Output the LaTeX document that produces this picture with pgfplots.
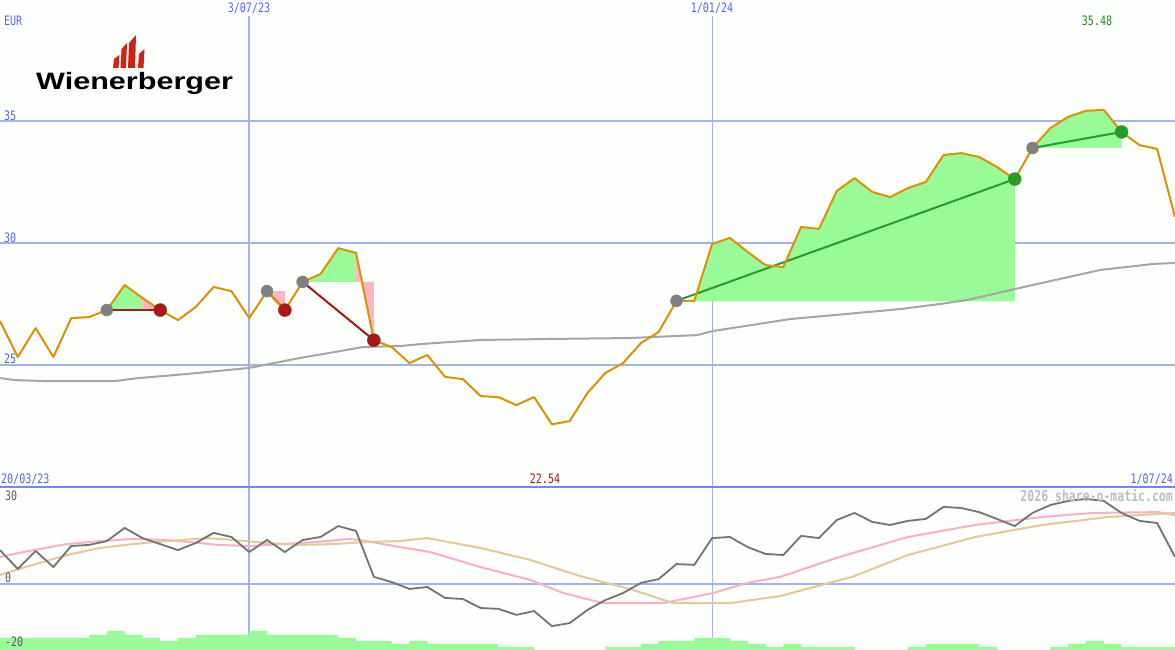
\documentclass[border=0pt]{standalone}
\usepackage{pgfplots}
\pgfplotsset{compat=1.18}
\usepackage{graphicx}
\usepackage{fontspec}
\setmainfont{DejaVu Sans Mono}
\newfontfamily\logofont{Liberation Sans}
\newcommand{\lab}[1]{\scalebox{1}[1.3]{#1}}
\definecolor{bgc}{RGB}{252,254,252}
\definecolor{gridc}{RGB}{165,178,240}
\definecolor{sepc}{RGB}{118,134,236}
\definecolor{labc}{RGB}{85,100,250}
\definecolor{pricec}{RGB}{222,145,0}
\definecolor{mac}{RGB}{165,165,165}
\definecolor{gfill}{RGB}{152,251,152}
\definecolor{pfill}{RGB}{255,182,193}
\definecolor{sgreen}{RGB}{40,155,40}
\definecolor{sred}{RGB}{165,25,25}
\definecolor{sgray}{RGB}{128,128,128}
\definecolor{maxc}{RGB}{30,140,30}
\definecolor{minc}{RGB}{160,25,25}
\definecolor{momc}{RGB}{115,115,115}
\definecolor{pinkl}{RGB}{250,175,195}
\definecolor{tanl}{RGB}{228,200,150}
\definecolor{volc}{RGB}{152,251,152}
\definecolor{logored}{RGB}{205,35,20}
\definecolor{wmc}{RGB}{190,190,190}
\definecolor{lowlab}{RGB}{90,90,90}
\begin{document}
\begin{tikzpicture}[x=1pt,y=1pt]
\useasboundingbox (0,0) rectangle (1175,650);
\fill[bgc] (0,0) rectangle (1175,650);
\pgfplotsset{base/.style={scale only axis, width=1175pt, xmin=0, xmax=66, hide axis, anchor=south west}}
% ---------- lower panel: grid + volume
\begin{axis}[base, at={(0pt,0pt)}, height=163pt, ymin=0, ymax=163]
\draw[gridc, line width=2pt] (axis cs:0,66) -- (axis cs:66,66);
\draw[gridc, line width=2pt] (axis cs:14,0) -- (axis cs:14,163);
\draw[gridc, line width=1pt] (axis cs:40,0) -- (axis cs:40,163);
\addplot[const plot, fill=volc, draw=none] coordinates {
(0,12)(1,12)(2,12)(3,12)(4,12)(5,15)(6,19)(7,15)(8,12)(9,9)(10,12)(11,15)(12,15)(13,15)(14,19)(15,15)(16,15)(17,15)(18,15)(19,12)(20,9)(21,9)(22,6)(23,9)(24,6)(25,6)(26,6)(27,6)(28,3)(29,3)(30,0)(31,0)(32,0)(33,0)(34,3)(35,3)(36,6)(37,9)(38,9)(39,12)(40,12)(41,9)(42,6)(43,3)(44,6)(45,3)(46,3)(47,3)(48,0)(49,0)(50,0)(51,3)(52,6)(53,6)(54,6)(55,3)(56,0)(57,0)(58,0)(59,3)(60,6)(61,9)(62,6)(63,3)(64,3)(65,3)(66,3)} \closedcycle;
\end{axis}
% ---------- lower panel: oscillators
\begin{axis}[base, at={(0pt,0pt)}, height=163pt, ymin=-24.15, ymax=35.49]
\addplot[pinkl, line width=2pt] coordinates {
(0,9.9)(1.85,12.4)(3.76,14.6)(5.62,15.7)(7.47,16.5)(9.38,16.1)(11.24,15.0)(12.19,14.3)(14.04,13.9)(15.9,14.6)(17.81,15.4)(19.66,16.5)(20.6,15.7)(22.47,13.5)(24.16,11.7)(26.97,6.2)(29.78,1.5)(31.63,-3.3)(33.88,-7.0)(37.25,-7.0)(40.06,-3.3)(41.97,0.4)(43.82,2.6)(47.3,10.2)(51.0,17.2)(54.78,21.6)(58.54,24.5)(61.35,26.0)(65.06,26.3)(66,25.2)};
\addplot[tanl, line width=2pt] coordinates {
(0,3.3)(1.85,7.0)(3.76,10.6)(5.62,13.2)(7.47,14.6)(9.38,15.7)(11.63,16.8)(13.09,16.1)(15.0,15.0)(16.85,14.3)(18.71,14.6)(20.6,15.4)(22.47,15.7)(23.99,16.8)(26.97,13.2)(29.78,8.8)(32.58,2.9)(35.39,-1.8)(37.81,-7.0)(41.01,-7.0)(43.82,-4.4)(47.87,2.6)(51.0,10.6)(54.78,17.2)(58.54,21.6)(62.25,24.5)(66,26.0)};
\addplot[momc, line width=1.8pt, line join=round] coordinates {
(0,12.4)(1,5.5)(2,12.1)(3,6.2)(4,13.9)(5,14.3)(6,15.7)(7,20.5)(8,16.8)(9,14.6)(10,12.4)(11,15.0)(12,18.7)(13,17.2)(14,11.7)(15,16.1)(16,11.7)(17,16.1)(18,17.2)(19,21.2)(20,19.4)(21,2.6)(22,0.7)(23,-1.8)(24,-1.1)(25,-5.1)(26,-5.5)(27,-8.8)(28,-9.1)(29,-11.3)(30,-9.9)(31,-15.4)(32,-14.3)(33,-9.5)(34,-5.9)(35,-3.3)(36,0.4)(37,1.8)(38,7.3)(39,7.0)(40,16.8)(41,17.2)(42,13.5)(43,11.0)(44,10.6)(45,17.6)(46,16.8)(47,23.4)(48,26.0)(49,22.7)(50,21.6)(51,23.1)(52,23.8)(53,28.2)(54,27.8)(55,26.3)(56,23.8)(57,21.2)(58,26.0)(59,28.9)(60,30.4)(61,31.1)(62,30.4)(63,26.0)(64,23.1)(65,22.3)(66,9.9)};
\end{axis}
% ---------- upper panel: price
\begin{axis}[base, at={(0pt,163pt)}, height=487pt, ymin=19.96, ymax=40]
\draw[gridc, line width=2pt] (axis cs:0,25) -- (axis cs:66,25);
\draw[gridc, line width=2pt] (axis cs:0,30) -- (axis cs:66,30);
\draw[gridc, line width=2pt] (axis cs:0,35) -- (axis cs:66,35);
\draw[gridc, line width=2pt] (axis cs:14,19) -- (axis cs:14,39.34);
\draw[gridc, line width=1pt] (axis cs:40,19) -- (axis cs:40,39.34);
% trade areas
\addplot[fill=gfill, draw=none] coordinates {(6,27.24)(7,28.27)(8,27.74)(8,27.24)};
\addplot[fill=pfill, draw=none] coordinates {(8,27.24)(8,27.74)(9,27.24)};
\addplot[fill=pfill, draw=none] coordinates {(15,28.02)(16,27.24)(16,28.02)};
\addplot[fill=gfill, draw=none] coordinates {(17,28.40)(18,28.72)(19,29.79)(20,29.59)(20,28.40)};
\addplot[fill=pfill, draw=none] coordinates {(20,28.40)(20,29.59)(21,26.00)(21,28.40)};
\addplot[fill=gfill, draw=none] coordinates {(38,27.60)(38,27.62)(39,27.62)(40,29.96)(41,30.21)(42,29.63)(43,29.09)(44,29.01)(45,30.66)(46,30.58)(47,32.14)(48,32.67)(49,32.10)(50,31.89)(51,32.26)(52,32.51)(53,33.62)(54,33.70)(55,33.54)(56,33.13)(57,32.63)(57,27.60)};
\addplot[fill=gfill, draw=none] coordinates {(58,33.91)(59,34.73)(60,35.19)(61,35.44)(62,35.48)(63,34.57)(63,33.91)};
% moving average
\addplot[mac, line width=2pt] coordinates {
(0,24.44)(0.84,24.36)(2.5,24.32)(6.46,24.32)(7.75,24.44)(10.5,24.61)(14,24.86)(16.85,25.27)(18.15,25.43)(20.4,25.72)(22.47,25.76)(23.6,25.84)(26.97,26.01)(30.73,26.05)(35.39,26.09)(39.16,26.21)(40.06,26.38)(44.38,26.87)(50.56,27.28)(52.8,27.49)(54.3,27.65)(58.0,28.27)(61.8,28.89)(64.8,29.14)(66,29.18)};
% trade lines
\addplot[sred, line width=2pt] coordinates {(6,27.24)(9,27.24)};
\addplot[sred, line width=2pt] coordinates {(15,28.02)(16,27.24)};
\addplot[sred, line width=2pt] coordinates {(17,28.40)(21,26.00)};
\addplot[sgreen, line width=2pt] coordinates {(38,27.62)(57,32.63)};
\addplot[sgreen, line width=2pt] coordinates {(58,33.91)(63,34.57)};
% trade dots
\addplot[only marks, mark=*, mark size=6pt, sgray, mark options={draw=none, fill=sgray}] coordinates {(6,27.24)(15,28.02)(17,28.40)(38,27.62)(58,33.91)};
\addplot[only marks, mark=*, mark size=6.5pt, sred, mark options={draw=none, fill=sred}] coordinates {(9,27.24)(16,27.24)(21,26.00)};
\addplot[only marks, mark=*, mark size=6.5pt, sgreen, mark options={draw=none, fill=sgreen}] coordinates {(57,32.63)(63,34.57)};
% price
\addplot[pricec, line width=2pt, line join=round] coordinates {
(0,26.79)(1,25.31)(2,26.50)(3,25.31)(4,26.91)(5,26.95)(6,27.24)(7,28.27)(8,27.74)(9,27.24)(10,26.83)(11,27.37)(12,28.19)(13,28.02)(14,26.91)(15,28.02)(16,27.24)(17,28.40)(18,28.72)(19,29.79)(20,29.59)(21,26.00)(22,25.72)(23,25.06)(24,25.39)(25,24.49)(26,24.40)(27,23.70)(28,23.66)(29,23.33)(30,23.66)(31,22.54)(32,22.67)(33,23.83)(34,24.65)(35,25.06)(36,25.88)(37,26.34)(38,27.62)(39,27.62)(40,29.96)(41,30.21)(42,29.63)(43,29.09)(44,29.01)(45,30.66)(46,30.58)(47,32.14)(48,32.67)(49,32.10)(50,31.89)(51,32.26)(52,32.51)(53,33.62)(54,33.70)(55,33.54)(56,33.13)(57,32.63)(58,33.91)(59,34.73)(60,35.19)(61,35.44)(62,35.48)(63,34.57)(64,34.03)(65,33.87)(66,31.07)};
\end{axis}
% separator
\draw[sepc, line width=2pt] (0,163) -- (1175,163);
% labels
\begin{scope}[every node/.style={inner sep=0pt, font=\fontsize{10}{12}\selectfont}]
\node[labc, anchor=west] at (4,629) {\lab{EUR}};
\node[labc] at (249,642) {\lab{3/07/23}};
\node[labc] at (712,642) {\lab{1/01/24}};
\node[maxc] at (1097,629) {\lab{35.48}};
\node[labc, anchor=west] at (4,534) {\lab{35}};
\node[labc, anchor=west] at (4,412) {\lab{30}};
\node[labc, anchor=west] at (4,291) {\lab{25}};
\node[labc, anchor=west] at (1,171) {\lab{20/03/23}};
\node[minc] at (545,171) {\lab{22.54}};
\node[labc, anchor=east] at (1173,171) {\lab{1/07/24}};
\node[lowlab, anchor=west] at (5,154) {\lab{30}};
\node[lowlab, anchor=west] at (5,72) {\lab{0}};
\node[lowlab, anchor=west] at (5,8) {\lab{-20}};
\node[wmc, anchor=east, font=\fontsize{11.5}{13}\selectfont\bfseries] at (1173,154) {\lab{2026 share-o-matic.com}};
\end{scope}
% logo
\node[anchor=base west, inner sep=0pt, font=\logofont\bfseries\fontsize{23.7}{26}\selectfont] at (36,560) {\scalebox{1.29}[1]{Wienerberger}};
\fill[logored] (113,582) -- (118.5,582) -- (119.5,595) -- (114,591) -- cycle;
\fill[logored] (120.5,582) -- (126,582) -- (127,607) -- (121.5,601) -- cycle;
\fill[logored] (128,582) -- (135,582) -- (136,615) -- (129,607) -- cycle;
\fill[logored] (138,582) -- (143.5,582) -- (144.5,601) -- (139,596) -- cycle;
\end{tikzpicture}
\end{document}
